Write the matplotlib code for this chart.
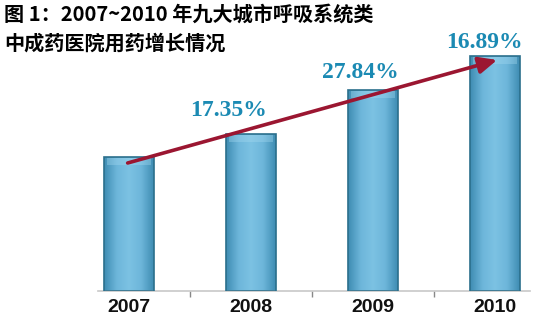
import matplotlib.pyplot as plt
import numpy as np
from matplotlib.colors import LinearSegmentedColormap

# 九大城市呼吸系统类中成药医院用药（2007 年 = 100）
years = ["2007", "2008", "2009", "2010"]
sales_index = [100.0, 117.35, 150.0, 175.4]
growth_labels = ["17.35%", "27.84%", "16.89%"]
growth_label_x = [0.82, 1.90, 2.92]
growth_label_y = [135.0, 163.0, 185.5]

title_lines = ["图 1：2007~2010 年九大城市呼吸系统类", "中成药医院用药增长情况"]

plt.rcParams["font.family"] = ["Noto Sans CJK SC", "DejaVu Sans"]

fig = plt.figure(figsize=(5.5, 3.34), dpi=100)
ax = fig.add_axes([0.178, 0.129, 0.785, 0.871])

bar_w = 0.41
bar_cmap = LinearSegmentedColormap.from_list(
    "bar", ["#3f8db3", "#6db6da", "#7cc2e3", "#6db6da", "#3f8db3"]
)
grad = np.linspace(0, 1, 64).reshape(1, -1)

bars = ax.bar(range(len(years)), sales_index, width=bar_w,
              color="none", edgecolor="#2b6f8c", linewidth=1.2, zorder=3)
for b in bars:
    x0, w, h = b.get_x(), b.get_width(), b.get_height()
    im = ax.imshow(grad, cmap=bar_cmap, aspect="auto",
                   extent=[x0, x0 + w, 0, h], zorder=2)
    im.set_clip_path(b)
    # soft bevel along the top
    ax.fill_between([x0 + w * 0.06, x0 + w * 0.94], h - 6, h - 1,
                    color="#a9dcf2", alpha=0.35, lw=0, zorder=2)

ax.set_xlim(-0.254, 3.287)
ax.set_ylim(0, 217.2)

ax.annotate("", xy=(3.02, sales_index[3] - 3), xytext=(-0.01, sales_index[0] - 4.5),
            arrowprops=dict(arrowstyle="-|>,head_length=1.1,head_width=0.5",
                            color="#9b1631", lw=2.6, shrinkA=0, shrinkB=0),
            zorder=5)

for txt, x, y in zip(growth_labels, growth_label_x, growth_label_y):
    ax.text(x, y, txt, ha="center", va="center", color="#1b8ab3",
            fontsize=17, fontweight="bold", family="Liberation Serif", zorder=6)

for spine in ["top", "right", "left"]:
    ax.spines[spine].set_visible(False)
ax.spines["bottom"].set_color("#c8c8c8")
ax.spines["bottom"].set_linewidth(1.2)
ax.set_yticks([])

ax.set_xticks([0.5, 1.5, 2.5])
ax.set_xticklabels([])
ax.tick_params(axis="x", length=4, color="#888888", width=1)
for i, yr in enumerate(years):
    ax.text(i, -6, yr, ha="center", va="top", fontsize=14, fontweight="bold",
            family="Liberation Sans", color="#111111")

for line, y in zip(title_lines, [0.958, 0.871]):
    fig.text(0.008, y, line, ha="left", va="center",
             fontsize=14.5, fontweight="bold", color="#000000")

fig.savefig("out.png", dpi=100)
